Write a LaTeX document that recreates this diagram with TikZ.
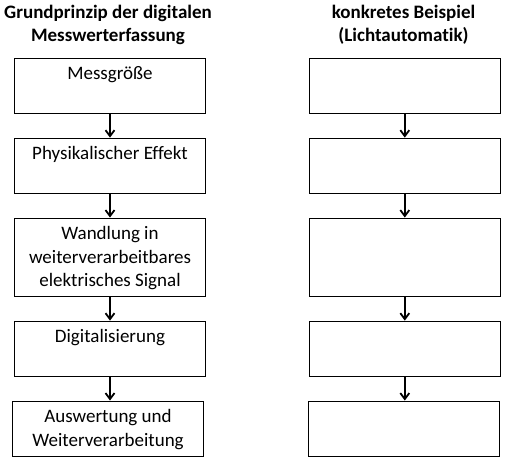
\documentclass[tikz,border=0pt]{standalone}
\usepackage{fontspec}
\setmainfont{Carlito}[Ligatures={NoCommon}]
\usetikzlibrary{arrows.meta}
\newcommand{\fl}{\vrule height 16pt depth 0pt width 0pt}
\tikzset{
  box/.style={draw=black, line width=1.3pt, minimum width=191pt, minimum height=55pt, inner sep=0pt},
  txt/.style={anchor=north, inner sep=0pt, align=center, font=\fontsize{19pt}{23.3pt}\selectfont},
  ttl/.style={anchor=north, inner sep=0pt, align=center, font=\fontsize{19pt}{22.5pt}\selectfont\bfseries},
  flow/.style={line width=2pt, -{Straight Barb[length=6pt,width=9pt,line width=1.8pt]}}
}
\begin{document}
\begin{tikzpicture}[x=1pt,y=-1pt]
\useasboundingbox (0,0) rectangle (513,469);
% titles
\node[ttl] (t1) at (108,2.3) {\fl Grundprinzip der digitalen\\Messwerterfassung};
\node[ttl] (t2) at (403.5,2.3) {\fl konkretes Beispiel\\(Lichtautomatik)};
% left boxes
\node[box, minimum height=55pt] (l1) at (110,85.8) {};
\node[box, minimum height=55pt] (l2) at (110,165.8) {};
\node[box, minimum height=78pt] (l3) at (110,257.2) {};
\node[box, minimum height=55pt] (l4) at (110,348.8) {};
\node[box, minimum height=55pt] (l5) at (108,428.7) {};
% right boxes
\node[box, minimum height=55pt] (r1) at (404.8,85.8) {};
\node[box, minimum height=55pt] (r2) at (404.8,165.8) {};
\node[box, minimum height=78pt] (r3) at (404.8,257.2) {};
\node[box, minimum height=55pt] (r4) at (404.8,348.8) {};
\node[box, minimum height=55pt] (r5) at (404,428.7) {};
% texts
\node[txt] (x1) at (l1.north) [yshift=-6pt] {\fl Messgröße};
\node[txt] (x2) at (l2.north) [yshift=-6pt] {\fl Physikalischer Effekt};
\node[txt] (x3) at (l3.north) [yshift=-6pt] {\fl Wandlung in\\weiterverarbeitbares\\elektrisches Signal};
\node[txt] (x4) at (l4.north) [yshift=-6pt] {\fl Digitalisierung};
\node[txt] (x5) at (l5.north) [yshift=-6pt] {\fl Auswertung und\\Weiterverarbeitung};
% arrows
\foreach \a/\b in {l1/l2,l2/l3,l3/l4,l4/l5,r1/r2,r2/r3,r3/r4,r4/r5}
  \draw[flow] (\a.south) -- (\a.south |- \b.north);
\end{tikzpicture}
\end{document}
